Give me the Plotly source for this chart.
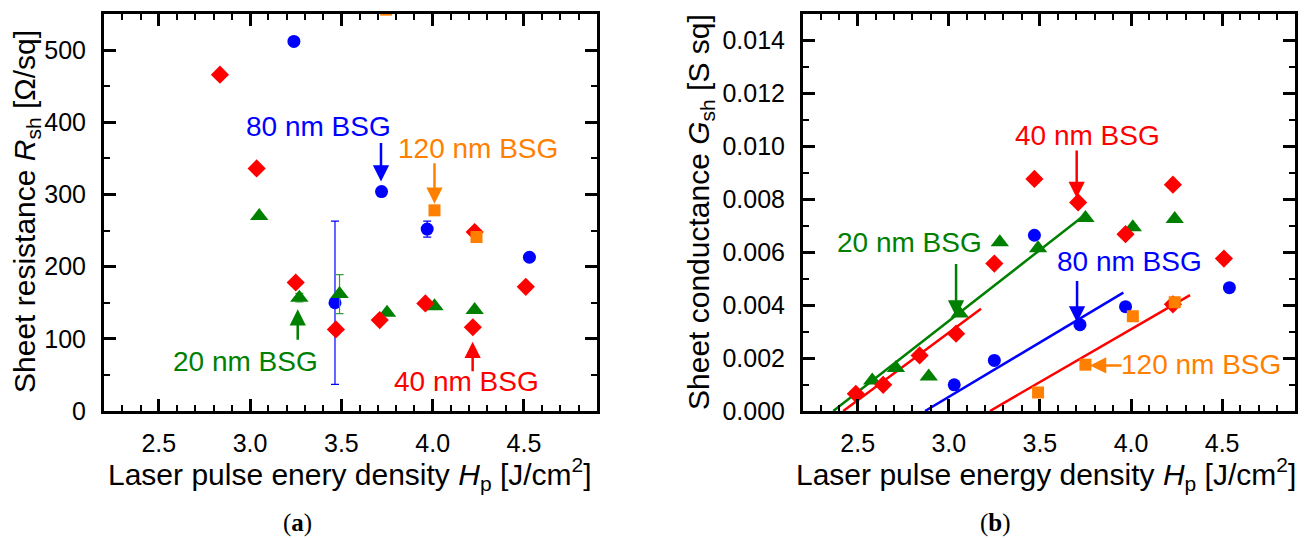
import plotly.graph_objects as go

# ---------------- data: panel (a) sheet resistance ----------------
r20_x = [3.05, 3.27, 3.49, 3.75, 4.01, 4.23]
r20_y = [270, 157, 162, 136, 145, 140]
r20_err = [0, 6, 27, 0, 0, 0]

r40_x = [2.835, 3.036, 3.25, 3.47, 3.71, 3.96, 4.23, 4.22, 4.51]
r40_y = [466, 336, 178, 113, 126, 149, 248, 116, 172]

r80_x = [3.24, 3.465, 3.72, 3.97, 4.53]
r80_y = [512, 150, 304, 252, 213]
r80_err = [0, 113, 0, 11, 0]

r120_x = [3.745, 4.01, 4.24]
r120_y = [556, 278, 241]

# ---------------- data: panel (b) sheet conductance ----------------
g20_x = [2.58, 2.71, 2.89, 3.06, 3.28, 3.49, 3.75, 4.01, 4.24]
g20_y = [0.00115, 0.00162, 0.00130, 0.00368, 0.00638, 0.00615, 0.00729, 0.00694, 0.00725]

g40_x = [2.49, 2.64, 2.84, 3.04, 3.25, 3.47, 3.71, 3.97, 4.23, 4.23, 4.51]
g40_y = [0.00065, 0.00099, 0.00210, 0.00292, 0.00557, 0.00877, 0.00788, 0.00668, 0.00855, 0.00403, 0.00576]

g80_x = [3.03, 3.25, 3.47, 3.72, 3.97, 4.54]
g80_y = [0.00099, 0.00191, 0.00664, 0.00326, 0.00394, 0.00466]

g120_x = [3.49, 3.75, 4.01, 4.24]
g120_y = [0.00070, 0.00175, 0.00358, 0.00411]

# linear fit lines (end points)
fit20_x = [2.366, 3.753]
fit20_y = [0.0, 0.00744]
fit40_x = [2.421, 3.177]
fit40_y = [0.0, 0.00386]
fit80_x = [2.87, 3.958]
fit80_y = [0.0, 0.00447]
fit120_x = [3.226, 4.324]
fit120_y = [0.0, 0.00438]

GREEN = "#008000"
RED = "#FF0000"
BLUE = "#0000FF"
ORANGE = "#FF8000"
FONT = "Liberation Sans, Arial, sans-serif"

W, H = 1309, 538

fig = go.Figure()

# panel (a)
fig.add_trace(go.Scatter(x=r80_x, y=r80_y, mode="markers", xaxis="x", yaxis="y",
                         marker=dict(symbol="circle", size=13, color=BLUE),
                         error_y=dict(type="data", array=r80_err, visible=True, color=BLUE,
                                      thickness=1.2, width=4)))
fig.add_trace(go.Scatter(x=r20_x, y=r20_y, mode="markers", xaxis="x", yaxis="y",
                         marker=dict(symbol="triangle-up", size=16, color=GREEN),
                         error_y=dict(type="data", array=r20_err, visible=True, color="#3a9a3a",
                                      thickness=1.2, width=4)))
fig.add_trace(go.Scatter(x=r40_x, y=r40_y, mode="markers", xaxis="x", yaxis="y",
                         marker=dict(symbol="diamond", size=14, color=RED)))
fig.add_trace(go.Scatter(x=r120_x, y=r120_y, mode="markers", xaxis="x", yaxis="y",
                         marker=dict(symbol="square", size=12, color=ORANGE)))

# panel (b)
fig.add_trace(go.Scatter(x=fit20_x, y=fit20_y, mode="lines", xaxis="x2", yaxis="y2",
                         line=dict(color=GREEN, width=2.5)))
fig.add_trace(go.Scatter(x=fit40_x, y=fit40_y, mode="lines", xaxis="x2", yaxis="y2",
                         line=dict(color=RED, width=2.5)))
fig.add_trace(go.Scatter(x=fit80_x, y=fit80_y, mode="lines", xaxis="x2", yaxis="y2",
                         line=dict(color=BLUE, width=2.5)))
fig.add_trace(go.Scatter(x=fit120_x, y=fit120_y, mode="lines", xaxis="x2", yaxis="y2",
                         line=dict(color=RED, width=2.5)))
fig.add_trace(go.Scatter(x=g80_x, y=g80_y, mode="markers", xaxis="x2", yaxis="y2",
                         marker=dict(symbol="circle", size=13, color=BLUE)))
fig.add_trace(go.Scatter(x=g20_x, y=g20_y, mode="markers", xaxis="x2", yaxis="y2",
                         marker=dict(symbol="triangle-up", size=16, color=GREEN)))
fig.add_trace(go.Scatter(x=g40_x, y=g40_y, mode="markers", xaxis="x2", yaxis="y2",
                         marker=dict(symbol="diamond", size=14, color=RED)))
fig.add_trace(go.Scatter(x=g120_x, y=g120_y, mode="markers", xaxis="x2", yaxis="y2",
                         marker=dict(symbol="square", size=12, color=ORANGE)))

tickfont = dict(family=FONT, size=25, color="black")
titlefont = dict(family=FONT, size=30, color="black")


def xaxis(domain, anchor):
    return dict(domain=domain, range=[2.2, 4.9], anchor=anchor, automargin=False,
                showgrid=False, zeroline=False,
                showline=True, linecolor="black", linewidth=3, mirror="ticks",
                ticks="inside", ticklen=12, tickwidth=2.5, tickcolor="black",
                tick0=2.5, dtick=0.5, tickformat=".1f", tickfont=tickfont,
                ticklabelstandoff=8,
                minor=dict(ticks="inside", ticklen=6, tickwidth=2, tickcolor="black",
                           tick0=2.5, dtick=0.1, showgrid=False))


def yaxis(domain, anchor, rng, dtick, mdtick, fmt):
    return dict(domain=domain, range=rng, anchor=anchor, automargin=False,
                showgrid=False, zeroline=False,
                showline=True, linecolor="black", linewidth=3, mirror="ticks",
                ticks="inside", ticklen=12, tickwidth=2.5, tickcolor="black",
                tick0=0, dtick=dtick, tickformat=fmt, tickfont=tickfont,
                ticklabelstandoff=10,
                minor=dict(ticks="inside", ticklen=6, tickwidth=2, tickcolor="black",
                           tick0=0, dtick=mdtick, showgrid=False))


ydom = [1 - 411 / H, 1 - 14 / H]
xa = xaxis([104 / W, 597 / W], "y")
xb = xaxis([803 / W, 1295 / W], "y2")
ya = yaxis(ydom, "x", [0, 550], 100, 50, "d")
yb = yaxis(ydom, "x2", [0, 0.015], 0.002, 0.001, ".3f")

annotations = []


def label(xref, yref, x, y, text, color):
    annotations.append(dict(xref=xref, yref=yref, x=x, y=y, text=text, showarrow=False,
                            font=dict(family=FONT, size=28, color=color),
                            xanchor="center", yanchor="middle"))


def arrow(xref, yref, x, y, ax, ay, color):
    annotations.append(dict(xref=xref, yref=yref, x=x, y=y, ax=ax, ay=ay, text="",
                            showarrow=True, arrowhead=2, arrowsize=1.3, arrowwidth=2.5,
                            arrowcolor=color, standoff=0, startstandoff=0))


def paper_text(px, py, text, font, angle=0):
    annotations.append(dict(xref="paper", yref="paper", x=px / W, y=1 - py / H,
                            text=text, showarrow=False, font=font, textangle=angle,
                            xanchor="center", yanchor="middle"))


# panel (a) annotations
label("x", "y", 3.377, 394, "80 nm BSG", BLUE)
arrow("x", "y", 3.717, 318, 0, -40, BLUE)
label("x", "y", 4.248, 363, "120 nm BSG", ORANGE)
arrow("x", "y", 4.01, 287, 0, -42, ORANGE)
label("x", "y", 2.975, 69, "20 nm BSG", GREEN)
arrow("x", "y", 3.261, 141, 0, 32, GREEN)
label("x", "y", 4.183, 41, "40 nm BSG", RED)
arrow("x", "y", 4.219, 96, 0, 31, RED)

# panel (b) annotations
label("x2", "y2", 3.759, 0.0104, "40 nm BSG", RED)
arrow("x2", "y2", 3.702, 0.00805, 0, -49, RED)
label("x2", "y2", 2.787, 0.00638, "20 nm BSG", GREEN)
arrow("x2", "y2", 3.04, 0.00357, 0, -54, GREEN)
label("x2", "y2", 3.989, 0.00565, "80 nm BSG", BLUE)
arrow("x2", "y2", 3.704, 0.00334, 0, -43, BLUE)
label("x2", "y2", 4.384, 0.00175, "120 nm BSG", ORANGE)
arrow("x2", "y2", 3.775, 0.00172, 33, 0, ORANGE)

# axis titles
paper_text(350, 474, "Laser pulse enery density <i>H</i><sub>p</sub> [J/cm<sup>2</sup>]", titlefont)
paper_text(1046, 474, "Laser pulse energy density <i>H</i><sub>p</sub> [J/cm<sup>2</sup>]", titlefont)
paper_text(27, 212, "Sheet resistance <i>R</i><sub>sh</sub> [Ω/sq]", titlefont, -90)
paper_text(701, 212, "Sheet conductance <i>G</i><sub>sh</sub> [S sq]", titlefont, -90)

# captions
capfont = dict(family="Liberation Serif, DejaVu Serif, serif", size=25, color="black")
paper_text(297, 523, "(<b>a</b>)", capfont)
paper_text(995, 523, "(<b>b</b>)", capfont)

fig.update_layout(
    width=W, height=H,
    margin=dict(l=0, r=0, t=0, b=0, autoexpand=False),
    paper_bgcolor="white", plot_bgcolor="white",
    showlegend=False,
    xaxis=xa, yaxis=ya, xaxis2=xb, yaxis2=yb,
    annotations=annotations,
    font=dict(family=FONT, color="black"),
)

fig.write_html("out.html")
